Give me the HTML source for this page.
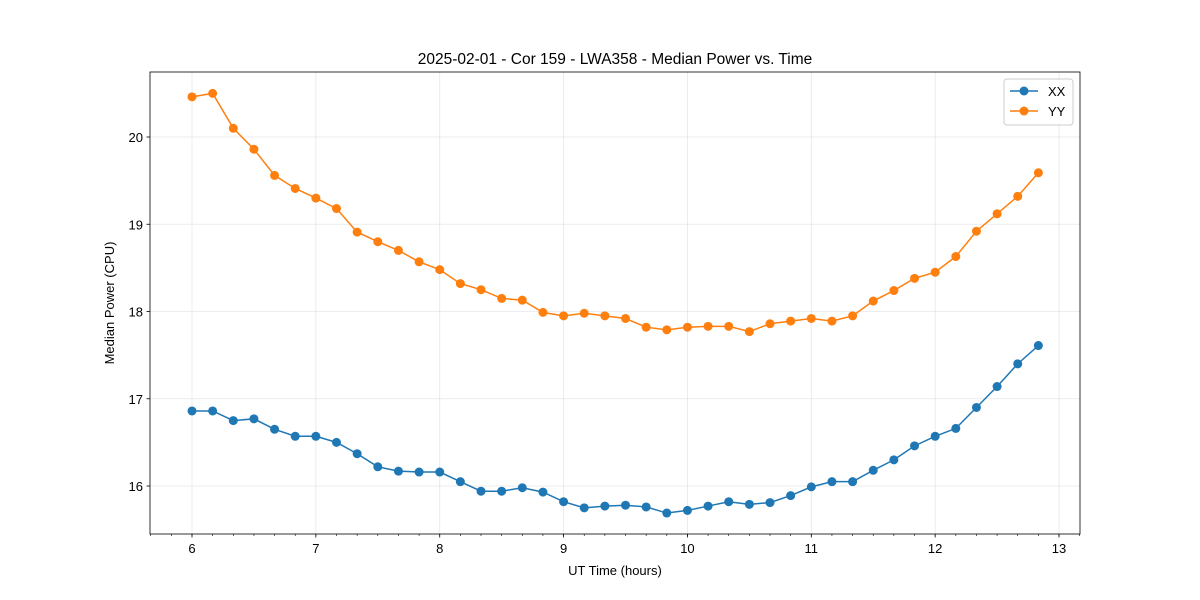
<!DOCTYPE html>
<html><head><meta charset="utf-8"><style>body{margin:0;background:#fff}svg{display:block;font-family:"Liberation Sans","DejaVu Sans",sans-serif}</style></head>
<body>
<svg id="chart" width="1200" height="600"></svg>
<script>
const times = Array.from({length:42},(_,i)=>6+i/6);
const yyValues=[20.46,20.50,20.10,19.86,19.56,19.41,19.30,19.18,18.91,18.80,18.70,18.57,18.48,18.32,18.25,18.15,18.13,17.99,17.95,17.98,17.95,17.92,17.82,17.79,17.82,17.83,17.83,17.77,17.86,17.89,17.92,17.89,17.95,18.12,18.24,18.38,18.45,18.63,18.92,19.12,19.32,19.59];
const xxValues=[16.86,16.86,16.75,16.77,16.65,16.57,16.57,16.50,16.37,16.22,16.17,16.16,16.16,16.05,15.94,15.94,15.98,15.93,15.82,15.75,15.77,15.78,15.76,15.69,15.72,15.77,15.82,15.79,15.81,15.89,15.99,16.05,16.05,16.18,16.30,16.46,16.57,16.66,16.90,17.14,17.40,17.61];
const xTicks=[6,7,8,9,10,11,12,13];
const yTicks=[16,17,18,19,20];
const L=150,R=1080,T=72,B=534;
const sx=v=>192+(v-6)*123.86, sy=v=>137-(v-20)*87.25;
const svg=document.getElementById('chart');const NS='http://www.w3.org/2000/svg';
function mk(t,a,p){const e=document.createElementNS(NS,t);for(const k in a)e.setAttribute(k,a[k]);(p||svg).appendChild(e);return e;}
function txt(s,a){const e=mk('text',a);e.textContent=s;return e;}
xTicks.forEach(v=>{const x=sx(v);
 const g=mk('line',{x1:x,x2:x,y1:T,y2:B,stroke:'#b0b0b0','stroke-width':0.8,'stroke-opacity':0.3});
 mk('line',{x1:x,x2:x,y1:B,y2:B+3.5,stroke:'#000','stroke-width':0.8});
 const t=txt(v,{x:x,y:B+19,'font-size':13,'text-anchor':'middle'});});
for(let k=-3;k<=44;k++){const x=sx(6+k/6);if(x<L||x>R)continue;mk('line',{x1:x,x2:x,y1:B,y2:B+2,stroke:'#000','stroke-width':0.6});}
yTicks.forEach(v=>{const y=sy(v);
 const g=mk('line',{x1:L,x2:R,y1:y,y2:y,stroke:'#b0b0b0','stroke-width':0.8,'stroke-opacity':0.3});
 mk('line',{x1:L-3.5,x2:L,y1:y,y2:y,stroke:'#000','stroke-width':0.8});
 const t=txt(v,{x:L-7,y:y+5,'font-size':13,'text-anchor':'end'});});
function series(vals,color,name){
 const p=mk('polyline',{points:vals.map((v,i)=>sx(times[i])+','+sy(v)).join(' '),fill:'none',stroke:color,'stroke-width':1.5});
 
 vals.forEach((v,i)=>{const c=mk('circle',{cx:sx(times[i]),cy:sy(v),r:4.5,fill:color});});}
series(xxValues,'#1f77b4','xx');series(yyValues,'#ff7f0e','yy');
const fr=mk('rect',{x:L,y:T,width:R-L,height:B-T,fill:'none',stroke:'#000','stroke-width':0.8});
let t=txt('2025-02-01 - Cor 159 - LWA358 - Median Power vs. Time',{x:615,y:64,'font-size':15.5,'text-anchor':'middle'});
t=txt('UT Time (hours)',{x:615,y:575,'font-size':13,'text-anchor':'middle'});
t=txt('Median Power (CPU)',{x:0,y:0,'font-size':13,'text-anchor':'middle',transform:'translate(114,303) rotate(-90)'});
const lg=mk('g',{});
mk('rect',{x:1004,y:79,width:69,height:46,rx:3,fill:'#fff','fill-opacity':0.8,stroke:'#ccc'},lg);
[['XX','#1f77b4',91],['YY','#ff7f0e',111]].forEach(([n,c,y])=>{
 const e=mk('g',{},lg);
 mk('line',{x1:1010,x2:1038,y1:y,y2:y,stroke:c,'stroke-width':1.5},e);mk('circle',{cx:1024,cy:y,r:4.5,fill:c},e);
 const tt=mk('text',{x:1048,y:y+5,'font-size':13},e);tt.textContent=n;});
</script>
</body></html>
